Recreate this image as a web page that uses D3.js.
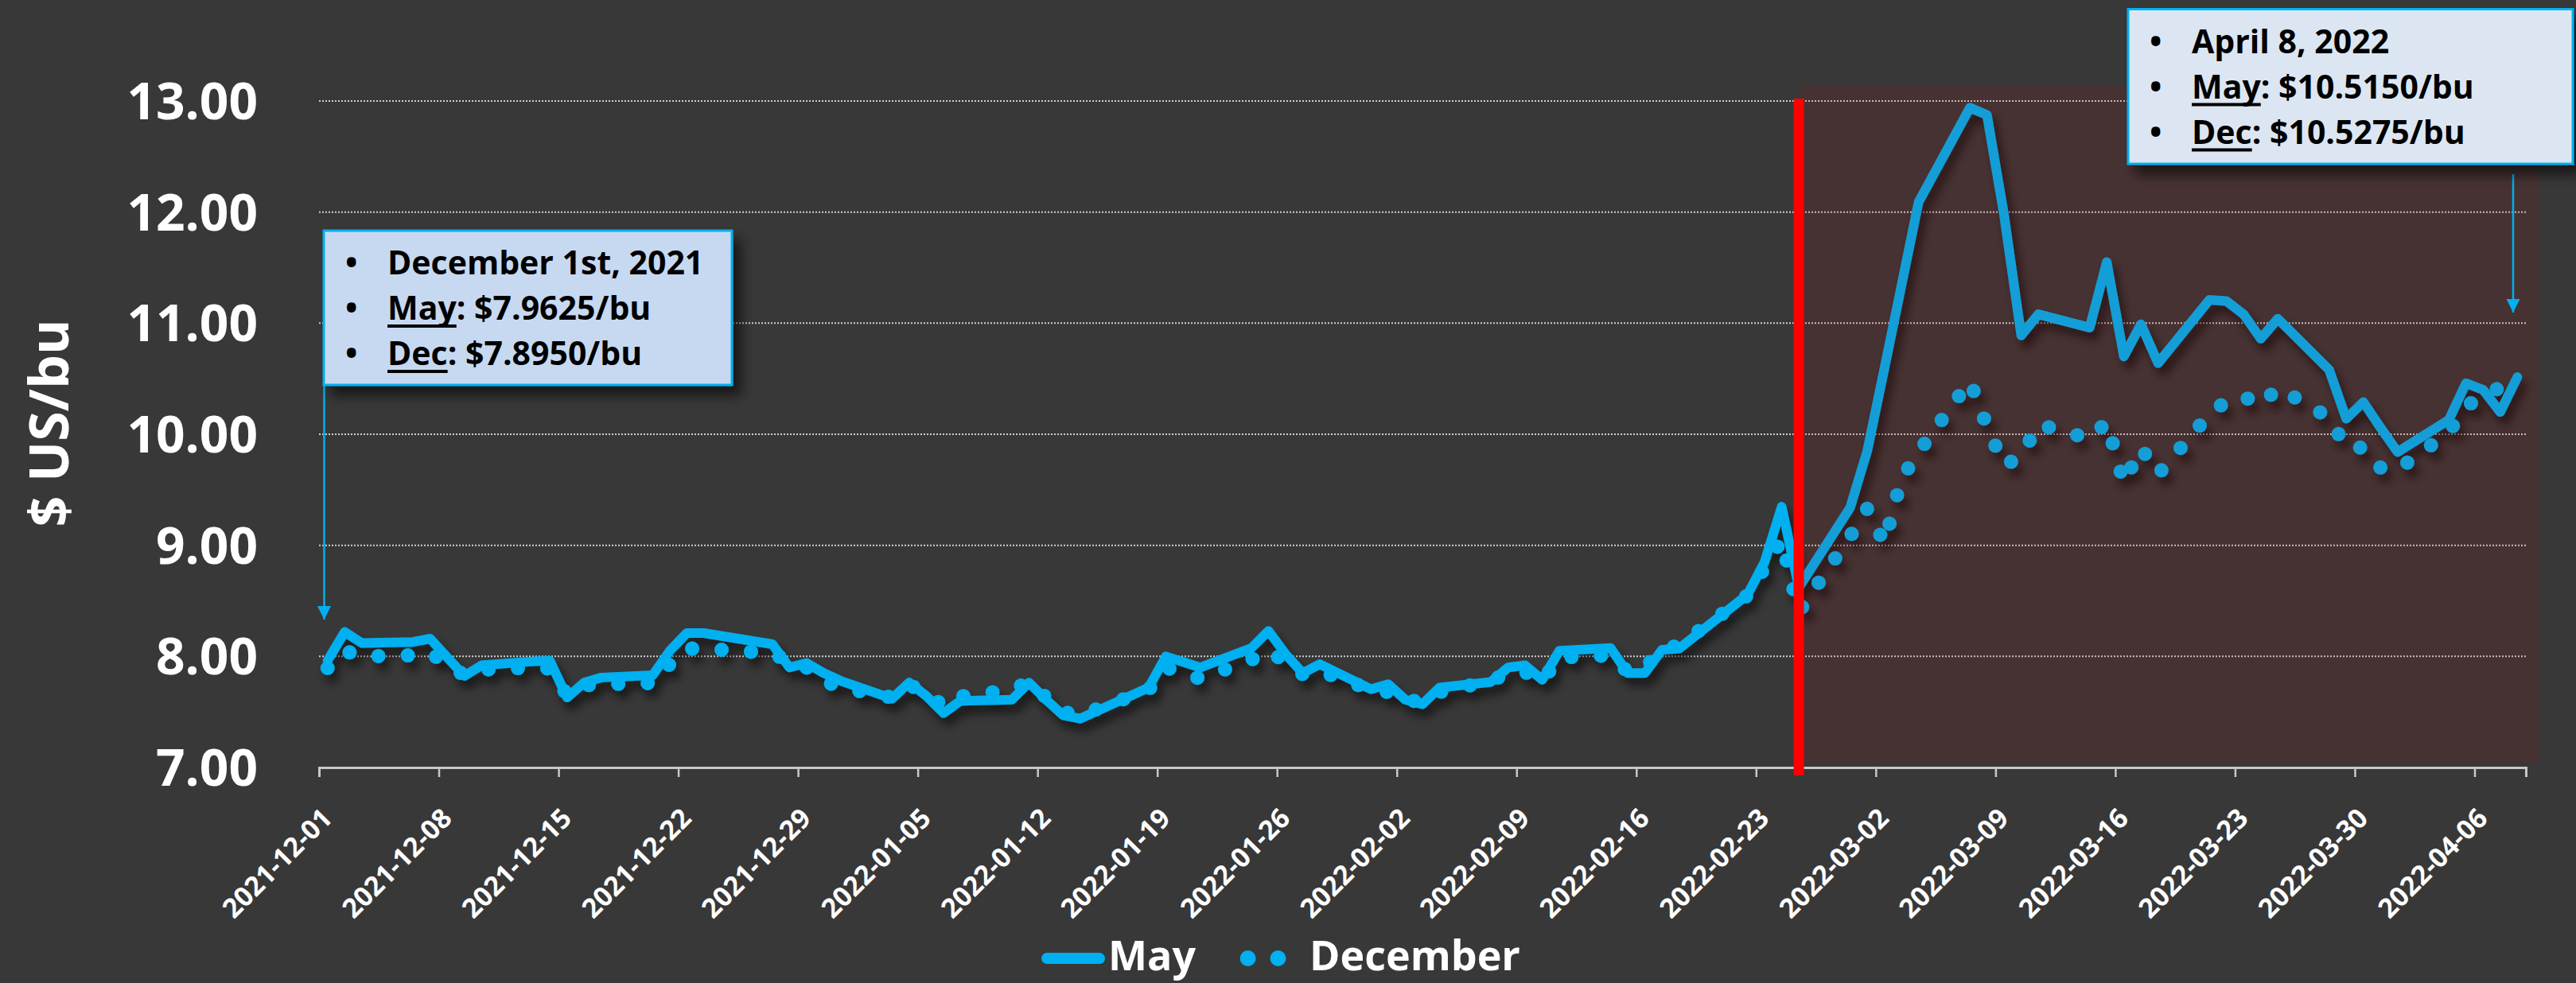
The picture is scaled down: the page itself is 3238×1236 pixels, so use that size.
<!DOCTYPE html>
<html><head><meta charset="utf-8">
<script src="https://cdn.jsdelivr.net/npm/d3@7"></script>
<style>
html,body{margin:0;padding:0;background:#383838;}
svg{display:block;}
text{font-family:"Open Sans","Noto Sans",sans-serif;font-weight:700;}
</style>
</head><body>
<svg id="chart" width="3238" height="1236"></svg>
<script>
// ---------------- data ----------------
const tradeDates = [
 "2021-12-01","2021-12-02","2021-12-03","2021-12-06","2021-12-07","2021-12-08","2021-12-09","2021-12-10",
 "2021-12-13","2021-12-14","2021-12-15","2021-12-16","2021-12-17","2021-12-20","2021-12-21","2021-12-22",
 "2021-12-23","2021-12-27","2021-12-28","2021-12-29","2021-12-30","2021-12-31",
 "2022-01-03","2022-01-04","2022-01-05","2022-01-06","2022-01-07","2022-01-10","2022-01-11","2022-01-12",
 "2022-01-13","2022-01-14","2022-01-18","2022-01-19","2022-01-20","2022-01-21","2022-01-24","2022-01-25",
 "2022-01-26","2022-01-27","2022-01-28","2022-01-31",
 "2022-02-01","2022-02-02","2022-02-03","2022-02-04","2022-02-07","2022-02-08","2022-02-09","2022-02-10",
 "2022-02-11","2022-02-14","2022-02-15","2022-02-16","2022-02-17","2022-02-18","2022-02-22","2022-02-23",
 "2022-02-24","2022-02-25","2022-02-28",
 "2022-03-01","2022-03-02","2022-03-03","2022-03-04","2022-03-07","2022-03-08","2022-03-09","2022-03-10",
 "2022-03-11","2022-03-14","2022-03-15","2022-03-16","2022-03-17","2022-03-18","2022-03-21","2022-03-22",
 "2022-03-23","2022-03-24","2022-03-25","2022-03-28","2022-03-29","2022-03-30","2022-03-31",
 "2022-04-01","2022-04-04","2022-04-05","2022-04-06","2022-04-07","2022-04-08"
];
const mayPrices = [
 7.9625,8.22,8.12,8.13,8.16,7.99,7.825,7.92,7.955,7.96,7.63,7.765,7.81,7.83,8.05,8.21,8.21,8.11,7.90,7.94,7.85,7.78,
 7.62,7.765,7.645,7.49,7.60,7.61,7.765,7.61,7.47,7.44,7.72,8.00,7.95,7.90,8.075,8.23,8.02,7.85,7.93,7.705,
 7.75,7.61,7.57,7.72,7.77,7.90,7.92,7.79,8.05,8.075,7.85,7.85,8.06,8.07,8.555,8.85,9.3475,8.62,9.34,
 9.85,10.59,11.34,12.09,12.94,12.875,11.97,10.89,11.08,10.96,11.55,10.70,10.99,10.64,11.21,11.20,11.08,10.86,11.04,10.58,10.14,10.29,10.06,
 9.84,10.13,10.46,10.40,10.20,10.515
];
const decPrices = [
 7.895,8.05,8.00,8.01,8.03,7.93,7.83,7.88,7.90,7.89,7.65,7.74,7.75,7.76,7.93,8.07,8.07,8.03,7.95,7.90,7.78,7.72,
 7.63,7.74,7.68,7.55,7.64,7.70,7.77,7.63,7.50,7.47,7.70,7.90,7.85,7.80,7.97,8.05,7.95,7.84,7.87,7.70,
 7.68,7.60,7.60,7.68,7.78,7.85,7.86,7.78,7.99,8.01,7.86,7.90,8.06,8.10,8.55,8.80,9.05,8.40,9.08,
 9.33,9.02,9.60,9.84,10.48,10.07,9.72,9.80,10.09,9.96,10.11,9.56,9.88,9.64,10.18,10.30,10.34,10.26,10.42,10.15,9.88,9.88,9.70,
 9.68,10.02,10.25,10.35,10.42,10.5275
];
const yTicks = [7,8,9,10,11,12,13];
const xTickLabels = ["2021-12-01","2021-12-08","2021-12-15","2021-12-22","2021-12-29","2022-01-05","2022-01-12",
 "2022-01-19","2022-01-26","2022-02-02","2022-02-09","2022-02-16","2022-02-23","2022-03-02","2022-03-09",
 "2022-03-16","2022-03-23","2022-03-30","2022-04-06"];
const xDomain = ["2021-12-01","2022-04-09"];
const seriesNames = ["May","December"];
const eventDate = "2022-02-25";
const yTitle = "$ US/bu";
const leftNoteTitle = "December 1st, 2021";
const leftNoteRows = [["May", ": $7.9625/bu"],["Dec", ": $7.8950/bu"]];
const rightNoteTitle = "April 8, 2022";
const rightNoteRows = [["May", ": $10.5150/bu"],["Dec", ": $10.5275/bu"]];

// ---------------- layout ----------------
const W = 3238, H = 1236;
const L = 401, R = 3175, T = 127, B = 965;
const BLUE = "#00b0f0";
const parse = d3.timeParse("%Y-%m-%d");
const svg = d3.select("#chart");

const x = d3.scaleTime().domain(xDomain.map(parse)).range([L, R]);
const y = d3.scaleLinear().domain([7, 13]).range([B, T]);
const mid = s => d3.timeHour.offset(parse(s), 12);

const defs = svg.append("defs");
const sh = defs.append("filter").attr("id","lineShadow").attr("x","-5%").attr("y","-20%").attr("width","110%").attr("height","140%");
sh.append("feDropShadow").attr("dx",6).attr("dy",10).attr("stdDeviation",6).attr("flood-color","#000").attr("flood-opacity",0.55);
const bsh = defs.append("filter").attr("id","boxShadow").attr("x","-10%").attr("y","-10%").attr("width","125%").attr("height","135%");
bsh.append("feDropShadow").attr("dx",10).attr("dy",12).attr("stdDeviation",8).attr("flood-color","#000").attr("flood-opacity",0.6);
const arrow = defs.append("marker").attr("id","arrowHead").attr("viewBox","0 0 10 10").attr("refX",10).attr("refY",5)
  .attr("markerUnits","userSpaceOnUse").attr("markerWidth",17).attr("markerHeight",17).attr("orient","auto");
arrow.append("path").attr("d","M0,0 L10,5 L0,10 Z").attr("fill",BLUE);

svg.append("rect").attr("width",W).attr("height",H).attr("fill","#383838");

// gridlines
svg.append("g").selectAll("line").data(yTicks.filter(v => v > 7)).join("line")
  .attr("x1",L).attr("x2",R).attr("y1",d=>y(d)).attr("y2",d=>y(d))
  .attr("stroke","#cfcfcf").attr("stroke-width",2).attr("stroke-dasharray","2 2");

// y labels
svg.append("g").selectAll("text").data(yTicks).join("text")
  .attr("x",324).attr("y",d=>y(d)).attr("dy","0.36em").attr("text-anchor","end")
  .attr("fill","#fff").attr("font-size",64).text(d=>d3.format(".2f")(d));

// y title
svg.append("text").attr("transform","translate(62,532) rotate(-90)").attr("text-anchor","middle")
  .attr("dy","0.36em").attr("fill","#fff").attr("font-size",68).text(yTitle);

// x axis
const xAxis = d3.axisBottom(x).tickValues(xTickLabels.map(parse)).tickSize(12).tickFormat(d3.timeFormat("%Y-%m-%d"));
const gx = svg.append("g").attr("transform",`translate(0,${B})`).call(xAxis);
gx.select(".domain").attr("stroke","#c8c8c8").attr("stroke-width",3);
gx.selectAll(".tick line").attr("stroke","#c8c8c8").attr("stroke-width",2.5);
gx.selectAll(".tick text").attr("fill","#fff").attr("font-size",34).attr("font-family","\"Open Sans\",sans-serif")
  .attr("font-weight",700).attr("text-anchor","end").attr("y",0).attr("dy",0)
  .attr("transform","translate(18,66) rotate(-45)");

// series
const may = tradeDates.map((d,i)=>({d:mid(d), v:mayPrices[i]}));
const dec = tradeDates.map((d,i)=>({d:mid(d), v:decPrices[i]}));
const line = d3.line().x(p=>x(p.d)).y(p=>y(p.v));
const gs = svg.append("g").attr("filter","url(#lineShadow)");
gs.append("path").attr("d",line(dec)).attr("fill","none").attr("stroke",BLUE).attr("stroke-width",18)
  .attr("stroke-linecap","round").attr("stroke-dasharray","0 37");
gs.append("path").attr("d",line(may)).attr("fill","none").attr("stroke",BLUE).attr("stroke-width",12)
  .attr("stroke-linejoin","round").attr("stroke-linecap","round");

// shaded post-event region
const ex = x(mid(eventDate));
svg.append("rect").attr("x",ex+2).attr("y",108).attr("width",3191-ex-2).attr("height",959-108)
  .attr("fill","rgb(192,0,0)").attr("fill-opacity",0.1);
svg.append("line").attr("x1",ex).attr("x2",ex).attr("y1",124).attr("y2",975)
  .attr("stroke","#ff0000").attr("stroke-width",13);

// annotation boxes
function note(bx, by, bw, bh, fill, title, rows, ax, ay1, ay2){
  svg.append("line").attr("x1",ax).attr("x2",ax).attr("y1",ay1).attr("y2",ay2)
    .attr("stroke",BLUE).attr("stroke-width",2.5).attr("marker-end","url(#arrowHead)");
  svg.append("rect").attr("x",bx).attr("y",by).attr("width",bw).attr("height",bh)
    .attr("fill",fill).attr("stroke",BLUE).attr("stroke-width",3).attr("filter","url(#boxShadow)");
  const lines = [[null,title]].concat(rows);
  lines.forEach((r,i)=>{
    const by0 = by + 55 + i*57;
    svg.append("text").attr("x",bx+27).attr("y",by0).attr("font-size",41).attr("fill","#000").text("\u2022");
    const t = svg.append("text").attr("x",bx+80).attr("y",by0).attr("font-size",41).attr("fill","#000");
    if (r[0]) {
      const u = t.append("tspan").text(r[0]);
      t.append("tspan").text(r[1]);
      const len = u.node().getComputedTextLength();
      svg.append("rect").attr("x",bx+80).attr("y",by0+6).attr("width",len).attr("height",4).attr("fill","#000");
    } else t.text(r[1]);
  });
}
note(407, 290, 513, 194, "#c6d9f1", leftNoteTitle, leftNoteRows, 407.5, 484, 779);
note(2675, 11.5, 559, 194.5, "#dce6f2", rightNoteTitle, rightNoteRows, 3159, 219, 393);

// legend
const lg = svg.append("g");
const LY = 1205;
lg.append("line").attr("x1",1316).attr("x2",1382).attr("y1",LY).attr("y2",LY)
  .attr("stroke",BLUE).attr("stroke-width",14).attr("stroke-linecap","round");
lg.append("text").attr("x",1393).attr("y",1220).attr("font-size",52).attr("fill","#fff").text(seriesNames[0]);
lg.selectAll("circle").data([1568.6,1606.5]).join("circle").attr("cx",d=>d).attr("cy",LY).attr("r",10).attr("fill",BLUE);
lg.append("text").attr("x",1646).attr("y",1220).attr("font-size",52).attr("fill","#fff").text(seriesNames[1]);
</script>
</body></html>
